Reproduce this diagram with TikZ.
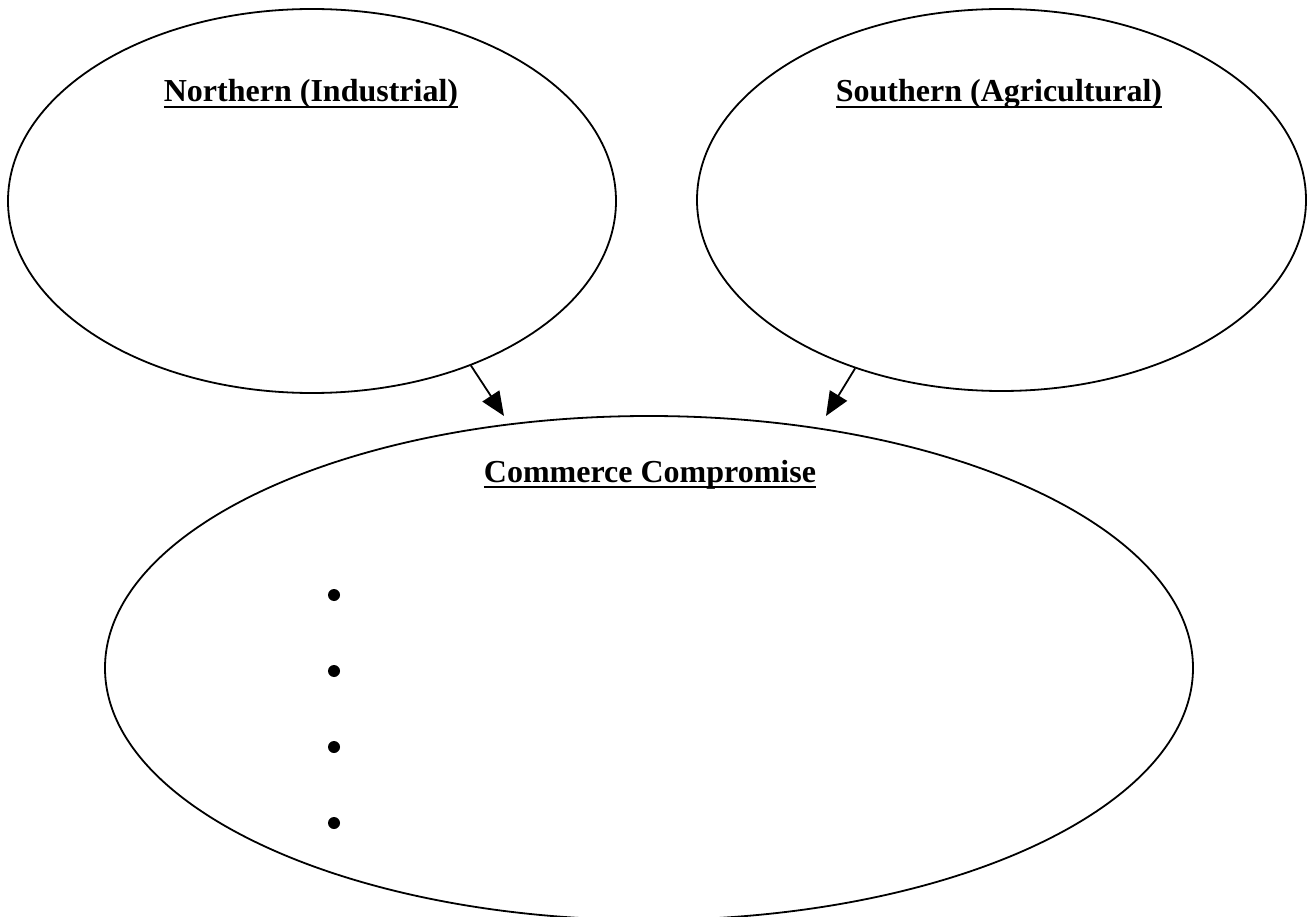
\documentclass[tikz,border=0pt]{standalone}
\usepackage{fontspec}
\setmainfont{Liberation Serif}
\usetikzlibrary{shapes.geometric,arrows.meta}
% bold heading with a heavy underline
\newcommand{\headline}[1]{\setbox0=\hbox{\bfseries #1}\rlap{\rule[-6.5pt]{\wd0}{2.5pt}}\box0}
\begin{document}
\begin{tikzpicture}[x=1pt,y=-1pt,
  bubble/.style={draw, ellipse, line width=1.8pt, inner sep=0pt},
  heading/.style={anchor=base, inner sep=0pt, font=\fontsize{32}{38}\selectfont},
  link/.style={line width=1.8pt, -{Triangle[length=24pt,width=20pt]}},
  bulletdot/.style={circle, fill, inner sep=0pt, minimum size=12pt}]
\useasboundingbox (0,0) rectangle (1310,917);

% three bubbles
\node[bubble, minimum width=608pt, minimum height=384pt] (north) at (312,201) {};
\node[bubble, minimum width=609pt, minimum height=382pt] (south) at (1001.5,200) {};
\node[bubble, minimum width=1088pt, minimum height=504pt] (commerce) at (649,668) {};

% headings
\node[heading] (northtitle) at (311,102) {\headline{Northern (Industrial)}};
\node[heading] (southtitle) at (999,102) {\headline{Southern (Agricultural)}};
\node[heading] (commercetitle) at (650,482) {\headline{Commerce Compromise}};

% arrow ends
\coordinate (tipA) at (504,416);
\coordinate (tipB) at (826,416);
\draw[link] (north.-46) -- (tipA);
\draw[link] (south.229.5) -- (tipB);

% bullet points
\node[bulletdot] (b1) at (334,595) {};
\node[bulletdot] (b2) at (334,671) {};
\node[bulletdot] (b3) at (334,747) {};
\node[bulletdot] (b4) at (334,823) {};
\end{tikzpicture}
\end{document}
